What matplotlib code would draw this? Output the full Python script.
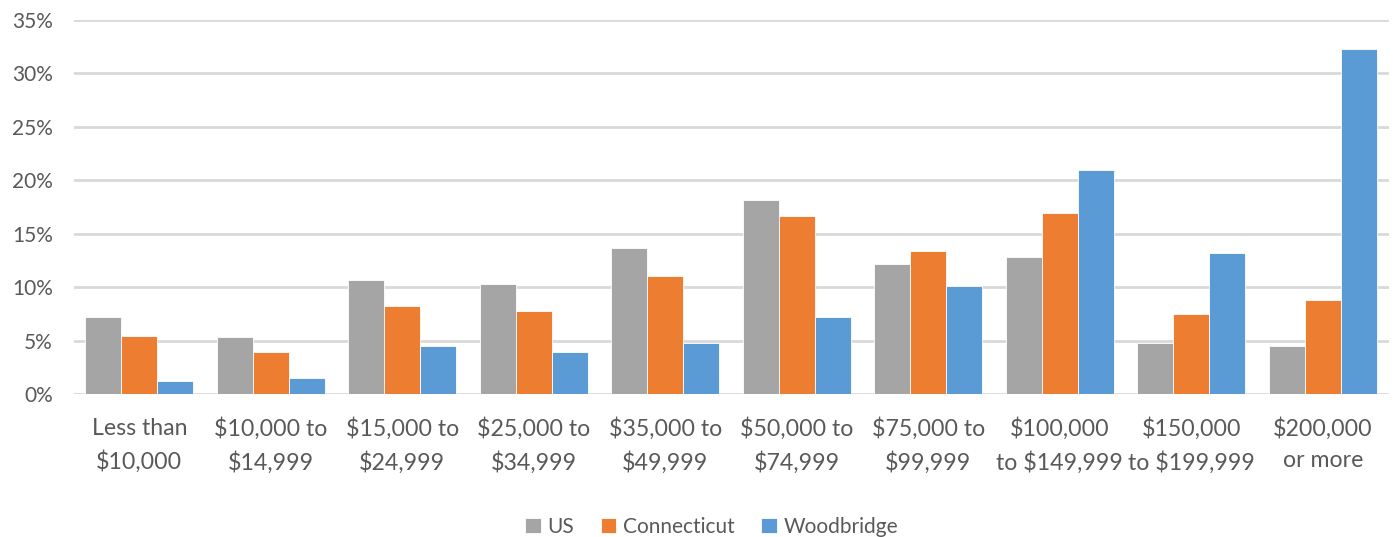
import matplotlib
matplotlib.use("Agg")
import matplotlib.pyplot as plt
import numpy as np
from matplotlib.ticker import PercentFormatter

categories = [
    "Less than\n$10,000", "$10,000 to\n$14,999", "$15,000 to\n$24,999",
    "$25,000 to\n$34,999", "$35,000 to\n$49,999", "$50,000 to\n$74,999",
    "$75,000 to\n$99,999", "$100,000\nto $149,999", "$150,000\nto $199,999",
    "$200,000\nor more",
]
us = [7.2, 5.3, 10.7, 10.3, 13.7, 18.2, 12.2, 12.8, 4.8, 4.5]
connecticut = [5.4, 3.9, 8.2, 7.8, 11.0, 16.7, 13.4, 16.9, 7.5, 8.8]
woodbridge = [1.2, 1.5, 4.5, 3.9, 4.8, 7.2, 10.1, 21.0, 13.2, 32.3]

series_names = ["US", "Connecticut", "Woodbridge"]
colors = ["#A5A5A5", "#ED7D31", "#5B9BD5"]
text_color = "#595959"

plt.rcParams["font.family"] = ["Lato", "DejaVu Sans"]

fig = plt.figure(figsize=(13.95, 5.37), dpi=100)
ax = fig.add_axes([73.6 / 1395, 1 - 394 / 537, 1315 / 1395, 374 / 537])

x = np.arange(len(categories))
width = 0.274
for k, (vals, name, col) in enumerate(zip([us, connecticut, woodbridge], series_names, colors)):
    ax.bar(x + (k - 1) * width, vals, width, color=col, label=name,
           edgecolor="white", linewidth=0.6, zorder=3)

ax.set_xlim(-0.5, len(categories) - 0.5)
ax.set_ylim(0, 35)
ax.set_yticks(np.arange(0, 36, 5))
ax.yaxis.set_major_formatter(PercentFormatter(decimals=0))
ax.grid(axis="y", color="#D9D9D9", linewidth=2, zorder=0)
ax.set_axisbelow(True)
for s in ax.spines.values():
    s.set_visible(False)

ax.set_xticks(x)
ax.set_xticklabels(categories, fontsize=16.7, color=text_color, linespacing=1.6)
ax.tick_params(axis="x", length=0, pad=17)
ax.tick_params(axis="y", length=0, pad=15, labelsize=15, labelcolor=text_color)

leg = fig.legend(loc="lower center", bbox_to_anchor=(0.51, -0.035), ncol=3,
                 frameon=False, fontsize=15, handlelength=0.75, handleheight=0.75,
                 handletextpad=0.3, columnspacing=1.3)
for t in leg.get_texts():
    t.set_color(text_color)

fig.savefig("out.png", dpi=100)
